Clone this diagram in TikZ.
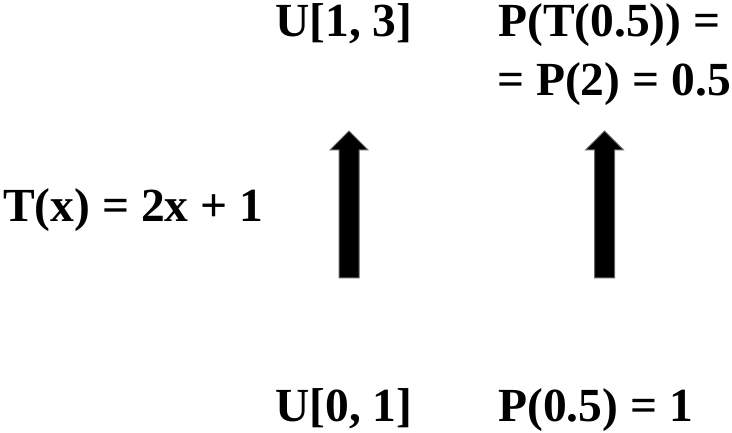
\documentclass[tikz,border=0pt]{standalone}
\usepackage{fontspec}
\setmainfont{Liberation Serif}
\usepackage{tikz}
\usetikzlibrary{positioning}

\begin{document}
\begin{tikzpicture}[
  x=1pt, y=1pt,
  every node/.style={font=\bfseries\fontsize{47.5}{58}\selectfont, inner sep=0pt},
  lbl/.style={anchor=base west},
  blockarrow/.style={fill=black, draw=black!60, line width=1pt}
]

\path[use as bounding box] (0,0) rectangle (732,-433);

% Upper row.
\node[lbl] (uTop) at (275,-37) {U[1, 3]};
\node[lbl] (pTop) at (498,-37) {P(T(0.5)) =};
\node[lbl] (pTopB) at (497,-96) {= P(2) = 0.5};

% The map.
\node[lbl] (tMap) at (3,-222) {T(x) = 2x + 1};

% Lower row.
\node[lbl] (uBot) at (275,-421) {U[0, 1]};
\node[lbl] (pBot) at (498,-421) {P(0.5) = 1};

% Block arrows, pointing up.
\foreach \xc/\nm in {349/arrL, 604.5/arrR} {
  \coordinate (\nm) at (\xc,-278);
  \draw[blockarrow]
    (\xc-10,-278) -- (\xc-10,-150) -- (\xc-19,-150) -- (\xc,-131)
    -- (\xc+19,-150) -- (\xc+10,-150) -- (\xc+10,-278) -- cycle;
}

\end{tikzpicture}
\end{document}
